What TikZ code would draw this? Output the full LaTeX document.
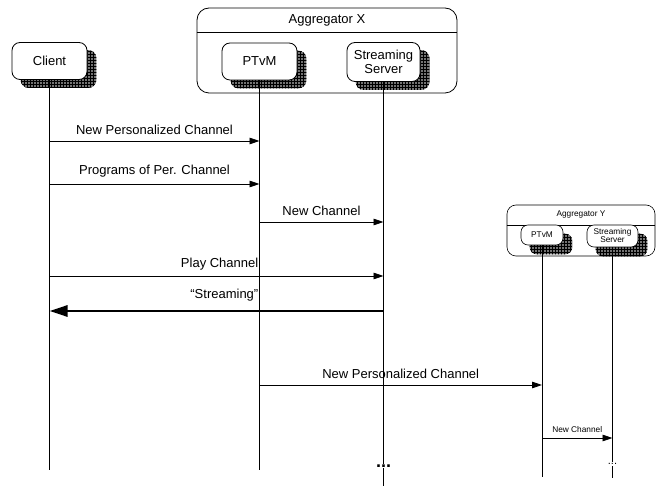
\documentclass[tikz,border=0pt]{standalone}
\usepackage{fontspec}
\setmainfont{Liberation Sans}
\usetikzlibrary{arrows.meta,patterns,backgrounds}
\begin{document}
\begin{tikzpicture}[x=1pt,y=-1pt,
  box/.style={draw, line width=0.8pt, rounded corners=8pt, fill=white, align=center,
    font=\fontsize{13}{13.5}\selectfont, inner sep=0pt},
  sbox/.style={draw, line width=0.6pt, rounded corners=7pt, fill=white, align=center,
    font=\fontsize{8.3}{8}\selectfont, inner sep=0pt},
  group/.style={draw, line width=0.8pt, rounded corners=12pt, inner sep=0pt},
  shade/.style={preaction={fill=black!55}, pattern=grid, pattern color=black},
  life/.style={line width=0.8pt},
  msg/.style={line width=0.8pt, -{Triangle[length=10pt,width=6.5pt]}},
  bigmsg/.style={line width=2.8pt, -{Triangle[length=18pt,width=11pt]}},
  lbl/.style={font=\fontsize{13}{13}\selectfont, inner sep=0pt},
  slbl/.style={font=\fontsize{8.3}{8.3}\selectfont, inner sep=0pt},
  dots/.style={fill=white, inner sep=1pt},
]
\useasboundingbox (0,0) rectangle (659,486);

% Aggregator X
\node[group, minimum width=260pt, minimum height=85pt] (aggx) at (327,50.5) {};
\node[lbl] (aggxt) at (327,20) {Aggregator X};
\draw[line width=0.8pt] (aggx.west |- 0,32) -- (aggx.east |- 0,32);

% Aggregator Y
\node[group, line width=0.6pt, rounded corners=9pt, minimum width=148pt, minimum height=51pt] (aggy) at (581,230.5) {};
\node[slbl] (aggyt) at (581,215) {Aggregator Y};
\draw[line width=0.6pt] (aggy.west |- 0,225) -- (aggy.east |- 0,225);

% boxes
\node[box, minimum width=75pt, minimum height=37pt] (client) at (49.5,61) {Client};
\node[box, minimum width=75pt, minimum height=37pt] (ptvm) at (259.5,61.5) {PTvM};
\node[box, minimum width=73pt, minimum height=39pt] (ssx) at (383.5,62) {Streaming\\Server};
\node[sbox, minimum width=42pt, minimum height=20pt] (ptvmy) at (542,235) {PTvM};
\node[sbox, minimum width=51pt, minimum height=22pt] (ssy) at (612.5,236) {Streaming\\Server};

% shadows
\begin{scope}[on background layer]
  \foreach \n in {client,ptvm,ssx}{
    \path[shade, rounded corners=8pt] ([shift={(9,8)}]\n.south west) rectangle ([shift={(9,8)}]\n.north east);
  }
  \foreach \n in {ptvmy,ssy}{
    \path[shade, rounded corners=7pt] ([shift={(9,9)}]\n.south west) rectangle ([shift={(9,9)}]\n.north east);
  }
\end{scope}

% lifelines
\draw[life] (client.south) -- (client.south |- 0,470);
\draw[life] (ptvm.south) -- (ptvm.south |- 0,470);
\draw[life] (ssx.south) -- (ssx.south |- 0,486);
\draw[life] (ptvmy.south) -- (ptvmy.south |- 0,477);
\draw[life] (ssy.south) -- (ssy.south |- 0,478);
\node[dots, font=\fontsize{18}{18}\bfseries] (dx) at (383.5,466) {...};
\node[dots, font=\fontsize{11}{11}\selectfont] (dy) at (612.5,464) {...};

% messages
\draw[msg] (client.south |- 0,141) -- node[lbl, above=6pt] {New Personalized Channel} (ptvm.south |- 0,141);
\draw[msg] (client.south |- 0,184) -- node[lbl, above=6pt] {Programs of Per. Channel} (ptvm.south |- 0,184);
\draw[msg] (ptvm.south |- 0,222) -- node[lbl, above=6pt] {New Channel} (ssx.south |- 0,222);
\draw[msg] (client.south |- 0,276) -- (ssx.south |- 0,276);
\node[lbl, anchor=south east] (lplay) at ([xshift=-1pt]ptvm.south |- 0,270) {Play Channel};
\draw[bigmsg] (ssx.south |- 0,311) -- (client.south |- 0,311);
\node[lbl, anchor=south east] (lstream) at ([xshift=-1pt]ptvm.south |- 0,301) {“Streaming”};
\draw[msg] (ptvm.south |- 0,385) -- node[lbl, above=6pt] {New Personalized Channel} (ptvmy.south |- 0,385);
\draw[msg] (ptvmy.south |- 0,438) -- node[slbl, above=5pt] {New Channel} (ssy.south |- 0,438);
\end{tikzpicture}
\end{document}
